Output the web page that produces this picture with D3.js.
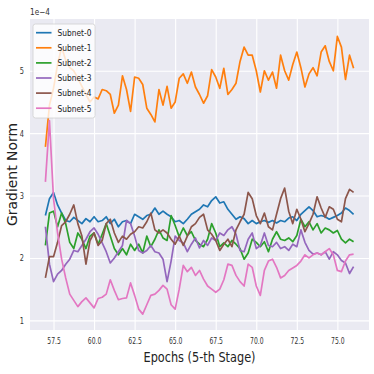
<!DOCTYPE html>
<html>
<head>
<meta charset="utf-8">
<script src="https://cdn.jsdelivr.net/npm/d3@7"></script>
<style>
  body { margin: 0; background: #fff; }
  text { font-family: "DejaVu Sans", sans-serif; }
</style>
</head>
<body>
<div id="chart"></div>
<script>
// epochs shared by every subnet (one reading per 0.25 epoch)
const epochs = [57, 57.25, 57.5, 57.75, 58, 58.25, 58.5, 58.75, 59, 59.25,
  59.5, 59.75, 60, 60.25, 60.5, 60.75, 61, 61.25, 61.5, 61.75,
  62, 62.25, 62.5, 62.75, 63, 63.25, 63.5, 63.75, 64, 64.25,
  64.5, 64.75, 65, 65.25, 65.5, 65.75, 66, 66.25, 66.5, 66.75,
  67, 67.25, 67.5, 67.75, 68, 68.25, 68.5, 68.75, 69, 69.25,
  69.5, 69.75, 70, 70.25, 70.5, 70.75, 71, 71.25, 71.5, 71.75,
  72, 72.25, 72.5, 72.75, 73, 73.25, 73.5, 73.75, 74, 74.25,
  74.5, 74.75, 75, 75.25, 75.5, 75.75, 76];

// gradient norm, in units of 1e-4
const subnet0 = [2.68, 2.95, 3.05, 2.85, 2.72, 2.60, 2.58, 2.65, 2.60, 2.55,
  2.63, 2.58, 2.66, 2.58, 2.60, 2.66, 2.55, 2.62, 2.50, 2.58,
  2.60, 2.55, 2.70, 2.66, 2.62, 2.68, 2.70, 2.80, 2.70, 2.75,
  2.70, 2.66, 2.58, 2.60, 2.55, 2.62, 2.70, 2.74, 2.78, 2.85,
  2.82, 2.92, 2.98, 2.88, 2.90, 2.78, 2.70, 2.62, 2.66, 2.63,
  2.55, 2.60, 2.55, 2.58, 2.60, 2.57, 2.60, 2.56, 2.60, 2.58,
  2.64, 2.66, 2.60, 2.70, 2.76, 2.82, 2.76, 2.66, 2.68, 2.66,
  2.62, 2.65, 2.68, 2.72, 2.80, 2.76, 2.70];

const subnet1 = [3.78, 4.45, 4.72, 5.10, 5.38, 5.17, 5.05, 5.00, 4.88, 4.75,
  4.62, 4.50, 4.58, 4.55, 4.70, 4.68, 4.62, 4.32, 4.45, 4.92,
  4.70, 4.35, 4.90, 4.88, 4.78, 4.40, 4.30, 4.18, 4.70, 4.45,
  4.75, 4.40, 4.50, 4.88, 4.95, 4.80, 4.98, 4.74, 4.62, 4.48,
  4.60, 5.02, 4.90, 4.72, 5.04, 4.62, 4.70, 4.80, 5.15, 5.38,
  5.25, 5.25, 5.00, 4.66, 5.00, 4.85, 4.98, 4.72, 5.25, 5.00,
  4.85, 5.10, 5.30, 5.05, 4.74, 4.95, 5.05, 4.92, 5.30, 5.40,
  5.15, 5.00, 5.55, 5.38, 4.86, 5.25, 5.04];

const subnet2 = [2.20, 2.72, 2.75, 2.50, 2.72, 2.55, 2.25, 2.15, 2.40, 2.30,
  2.15, 2.35, 2.40, 2.22, 2.38, 2.55, 2.35, 2.15, 2.05, 2.15,
  2.05, 2.22, 2.12, 2.22, 2.08, 2.35, 2.18, 2.30, 2.45, 2.32,
  2.28, 2.68, 2.52, 2.34, 2.48, 2.36, 2.42, 2.28, 2.22, 2.18,
  2.30, 2.55, 2.40, 2.18, 2.24, 2.18, 2.28, 2.22, 2.15, 1.98,
  2.08, 2.30, 2.25, 2.18, 2.26, 2.10, 2.30, 2.42, 2.30, 2.28,
  2.32, 2.26, 2.36, 2.62, 2.50, 2.58, 2.45, 2.55, 2.40, 2.48,
  2.45, 2.40, 2.44, 2.30, 2.24, 2.30, 2.26];

const subnet3 = [2.50, 1.90, 1.62, 1.74, 1.80, 1.90, 1.98, 2.12, 2.10, 2.20,
  2.30, 2.42, 2.48, 2.38, 2.24, 2.10, 1.92, 2.00, 2.10, 2.20,
  2.60, 2.55, 2.35, 2.12, 2.08, 2.12, 2.20, 2.10, 2.08, 1.98,
  1.62, 1.95, 2.35, 2.28, 2.24, 2.10, 2.22, 2.32, 2.16, 2.28,
  2.20, 2.32, 2.28, 2.40, 2.36, 2.45, 2.50, 2.38, 2.12, 2.10,
  2.30, 2.40, 2.15, 2.20, 2.40, 2.20, 2.18, 2.25, 2.15, 2.18,
  2.12, 2.22, 2.18, 2.45, 2.25, 2.12, 2.06, 2.08, 2.05, 2.10,
  1.98, 2.10, 2.05, 1.96, 1.92, 1.75, 1.86];

const subnet4 = [1.68, 2.02, 2.02, 2.25, 2.52, 2.58, 2.70, 2.85, 2.55, 2.35,
  1.90, 2.28, 2.40, 2.20, 2.28, 2.55, 2.62, 2.40, 2.25, 2.35,
  2.30, 2.38, 2.42, 2.50, 2.48, 2.58, 2.72, 2.45, 2.40, 2.45,
  2.40, 2.30, 2.22, 2.35, 2.20, 2.35, 2.50, 2.55, 2.65, 2.70,
  2.45, 2.38, 2.28, 2.12, 2.22, 2.30, 2.18, 2.45, 2.58, 2.70,
  3.05, 2.95, 2.68, 2.55, 2.72, 2.50, 2.45, 2.70, 2.95, 3.12,
  2.75, 2.55, 2.78, 2.62, 2.42, 2.55, 2.70, 2.98, 2.80, 2.65,
  2.82, 2.78, 2.62, 2.58, 2.95, 3.10, 3.05];

const subnet5 = [3.22, 4.20, 2.95, 2.40, 1.98, 1.68, 1.42, 1.32, 1.22, 1.30,
  1.36, 1.28, 1.20, 1.35, 1.37, 1.42, 1.65, 1.48, 1.33, 1.35,
  1.36, 1.60, 1.40, 1.18, 1.10, 1.25, 1.40, 1.42, 1.48, 1.56,
  1.50, 1.25, 1.18, 1.50, 1.88, 1.78, 1.85, 1.72, 1.80, 1.66,
  1.55, 1.50, 1.45, 1.50, 1.65, 1.90, 1.88, 1.72, 1.62, 1.55,
  1.90, 1.85, 1.55, 1.40, 1.80, 1.95, 1.98, 1.85, 1.68, 1.72,
  1.80, 1.84, 1.88, 1.95, 2.05, 2.00, 2.05, 2.08, 2.05, 2.10,
  2.15, 2.05, 1.80, 1.78, 1.95, 2.05, 2.06];

const seriesNames = ['Subnet-0', 'Subnet-1', 'Subnet-2', 'Subnet-3', 'Subnet-4', 'Subnet-5'];
const seriesValues = [subnet0, subnet1, subnet2, subnet3, subnet4, subnet5];
const seriesColors = ['#1f77b4', '#ff7f0e', '#2ca02c', '#9467bd', '#8c564b', '#e377c2'];

const xTicks = [57.5, 60, 62.5, 65, 67.5, 70, 72.5, 75];
const yTicks = [1, 2, 3, 4, 5];

const width = 374, height = 374;
const margin = {left: 30, right: 5, top: 19, bottom: 44};

const svg = d3.select('#chart').append('svg')
  .attr('width', width)
  .attr('height', height);

const x = d3.scaleLinear().domain([56.05, 76.95]).range([margin.left, width - margin.right]);
const y = d3.scaleLinear().domain([0.845, 5.83]).range([height - margin.bottom, margin.top]);

// plot background
svg.append('rect')
  .attr('x', margin.left).attr('y', margin.top)
  .attr('width', x.range()[1] - x.range()[0])
  .attr('height', y.range()[0] - y.range()[1])
  .attr('fill', '#eaeaf2');

// x axis with white gridlines
const xAxis = svg.append('g')
  .attr('transform', `translate(0,${y.range()[0]})`)
  .call(d3.axisBottom(x).tickValues(xTicks).tickFormat(d3.format('.1f'))
    .tickSize(-(y.range()[0] - y.range()[1])).tickPadding(7));

// y axis with white gridlines
const yAxis = svg.append('g')
  .attr('transform', `translate(${margin.left},0)`)
  .call(d3.axisLeft(y).tickValues(yTicks).tickFormat(d3.format('d'))
    .tickSize(-(x.range()[1] - x.range()[0])).tickPadding(6));

[xAxis, yAxis].forEach(g => {
  g.select('.domain').remove();
  g.selectAll('.tick line').attr('stroke', '#fff').attr('stroke-width', 1.1);
  g.selectAll('.tick text')
    .attr('fill', '#333')
    .attr('font-size', 9.5)
    .attr('font-family', '"DejaVu Sans", sans-serif')
    .attr('lengthAdjust', 'spacingAndGlyphs');
});
xAxis.selectAll('.tick text').attr('textLength', 13.5);
yAxis.selectAll('.tick text').attr('textLength', 4.2);

// lines
const line = d3.line()
  .x((d, i) => x(epochs[i]))
  .y(d => y(d));

svg.append('g')
  .selectAll('path')
  .data(seriesValues)
  .join('path')
  .attr('d', line)
  .attr('fill', 'none')
  .attr('stroke', (d, i) => seriesColors[i])
  .attr('stroke-width', 1.7)
  .attr('stroke-linejoin', 'round');

// offset text
svg.append('text')
  .attr('x', 30).attr('y', 15)
  .attr('font-size', 9)
  .attr('fill', '#333')
  .attr('textLength', 20)
  .attr('lengthAdjust', 'spacingAndGlyphs')
  .text('1e\u22124');

// axis labels
svg.append('text')
  .attr('x', (x.range()[0] + x.range()[1]) / 2)
  .attr('y', 362)
  .attr('text-anchor', 'middle')
  .attr('font-size', 14)
  .attr('fill', '#222')
  .attr('textLength', 112)
  .attr('lengthAdjust', 'spacingAndGlyphs')
  .text('Epochs (5-th Stage)');

svg.append('text')
  .attr('transform', `translate(17,${(y.range()[0] + y.range()[1]) / 2}) rotate(-90)`)
  .attr('text-anchor', 'middle')
  .attr('font-size', 14)
  .attr('fill', '#222')
  .attr('textLength', 103)
  .attr('lengthAdjust', 'spacingAndGlyphs')
  .text('Gradient Norm');

// legend
const legend = svg.append('g').attr('transform', 'translate(33,24)');
legend.append('rect')
  .attr('width', 62).attr('height', 94)
  .attr('rx', 2.5)
  .attr('fill', '#fff').attr('fill-opacity', 0.8)
  .attr('stroke', '#d0d0d0').attr('stroke-width', 0.8);

const items = legend.selectAll('g.item')
  .data(seriesNames)
  .join('g')
  .attr('class', 'item')
  .attr('transform', (d, i) => `translate(0,${8.7 + i * 15.1})`);

items.append('line')
  .attr('x1', 3).attr('x2', 18.5)
  .attr('stroke', (d, i) => seriesColors[i])
  .attr('stroke-width', 1.7);

items.append('text')
  .attr('x', 24.5).attr('y', 3.3)
  .attr('font-size', 9.3)
  .attr('fill', '#222')
  .attr('textLength', 34)
  .attr('lengthAdjust', 'spacingAndGlyphs')
  .text(d => d);
</script>
</body>
</html>
